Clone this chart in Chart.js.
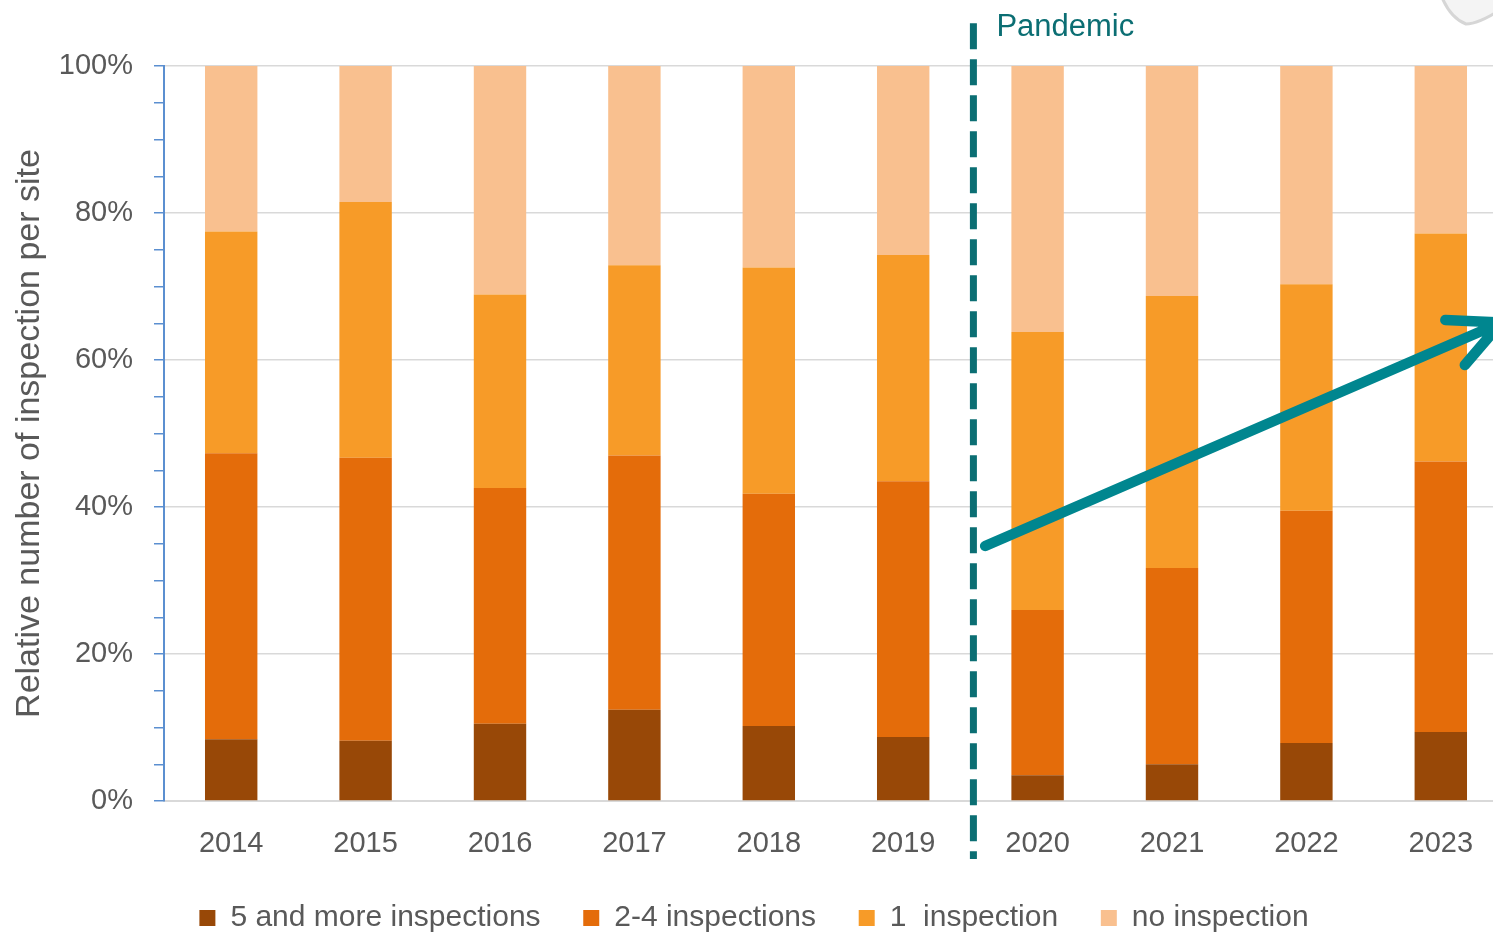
<!DOCTYPE html>
<html>
<head>
<meta charset="utf-8">
<script src="https://cdn.jsdelivr.net/npm/chart.js@4.4.1/dist/chart.umd.min.js"></script>
<style>
  html, body { margin: 0; padding: 0; overflow: hidden; background: #fff; }
  #wrap { width: 1508px; height: 932px; position: relative; }
</style>
</head>
<body>
<div id="wrap"><canvas id="myChart"></canvas></div>
<script>
// values (share of sites, %)
const years = ['2014', '2015', '2016', '2017', '2018', '2019', '2020', '2021', '2022', '2023'];
const fivePlus = [8.4, 8.2, 10.5, 12.4, 10.2, 8.7, 3.5, 5.0, 7.9, 9.4];
const twoToFour = [38.9, 38.5, 32.1, 34.6, 31.6, 34.8, 22.5, 26.7, 31.6, 36.8];
const oneInsp = [30.2, 34.8, 26.3, 25.9, 30.8, 30.8, 37.8, 37.0, 30.8, 31.0];
const noInsp = [22.5, 18.5, 31.1, 27.1, 27.4, 25.7, 36.2, 31.3, 29.7, 22.8];

const seriesNames = ['5 and more inspections', '2-4 inspections', '1  inspection', 'no inspection'];
const seriesColors = ['#984807', '#e46c0a', '#f79b28', '#f9c08f'];

// annotation: pandemic break between 2019 and 2020, trend arrow (category index, %)
const pandemicAt = 5.5;
const arrowFrom = [5.61, 34.7];
const arrowTo = [9.45, 65.1];

const teal = '#0b6e73';

Chart.defaults.font.family = "'Liberation Sans', Arial, sans-serif";
Chart.defaults.color = '#595959';

const annotate = {
  id: 'annotate',
  afterDatasetsDraw(chart) {
    const {ctx, scales: {x, y}} = chart;
    ctx.save();
    // dashed pandemic line
    let lx = x.getPixelForValue(pandemicAt) + 3;
    ctx.strokeStyle = teal;
    ctx.lineWidth = 7;
    ctx.setLineDash([26, 10]);
    ctx.beginPath();
    ctx.moveTo(lx, y.getPixelForValue(105.8));
    ctx.lineTo(lx, y.getPixelForValue(-7.9));
    ctx.stroke();
    ctx.setLineDash([]);

    ctx.fillStyle = teal;
    ctx.font = "31px 'Liberation Sans', Arial, sans-serif";
    ctx.textAlign = 'left';
    ctx.textBaseline = 'middle';
    ctx.fillText('Pandemic', lx + 23, y.getPixelForValue(105.2));

    // trend arrow
    let x1 = x.getPixelForValue(arrowFrom[0]), y1 = y.getPixelForValue(arrowFrom[1]);
    let x2 = x.getPixelForValue(arrowTo[0]), y2 = y.getPixelForValue(arrowTo[1]);
    let ang = Math.atan2(y2 - y1, x2 - x1);
    let head = 56, spread = 26 * Math.PI / 180;
    ctx.strokeStyle = '#00868f';
    ctx.lineWidth = 10.5;
    ctx.lineCap = 'round';
    ctx.lineJoin = 'round';
    ctx.beginPath();
    ctx.moveTo(x1, y1);
    ctx.lineTo(x2, y2);
    ctx.moveTo(x2 - head * Math.cos(ang - spread), y2 - head * Math.sin(ang - spread));
    ctx.lineTo(x2, y2);
    ctx.lineTo(x2 - head * Math.cos(ang + spread), y2 - head * Math.sin(ang + spread));
    ctx.stroke();

    // bit of a grey shape cut off at the top right corner
    ctx.lineWidth = 3;
    ctx.strokeStyle = '#d6d6d6';
    ctx.fillStyle = '#f4f4f4';
    ctx.beginPath();
    ctx.moveTo(1441, -5);
    ctx.quadraticCurveTo(1450, 18, 1466, 24);
    ctx.quadraticCurveTo(1478, 24, 1500, 10);
    ctx.lineTo(1500, -5);
    ctx.closePath();
    ctx.fill();
    ctx.beginPath();
    ctx.moveTo(1441, -5);
    ctx.quadraticCurveTo(1450, 18, 1466, 24);
    ctx.quadraticCurveTo(1478, 24, 1500, 10);
    ctx.stroke();
    ctx.restore();
  }
};

const datasets = [fivePlus, twoToFour, oneInsp, noInsp].map((d, i) => ({
  label: seriesNames[i],
  data: d,
  backgroundColor: seriesColors[i],
  borderWidth: 0,
  barPercentage: 0.39,
  categoryPercentage: 1.0,
}));

const ctx = document.getElementById('myChart');
new Chart(ctx, {
  type: 'bar',
  data: { labels: years, datasets: datasets },
  plugins: [annotate],
  options: {
    responsive: true,
    maintainAspectRatio: false,
    animation: false,
    layout: { padding: { top: 66, right: 0, left: 0, bottom: -11 } },
    scales: {
      x: {
        stacked: true,
        afterFit: (scale) => { scale.height = 101; },
        grid: { display: true, drawOnChartArea: false, drawTicks: false },
        border: { color: '#d9d9d9', width: 2 },
        ticks: { padding: 26, font: { size: 29 }, color: '#595959' },
      },
      y: {
        stacked: true,
        min: 0,
        max: 100,
        afterFit: (scale) => { scale.width = 164; },
        ticks: {
          stepSize: 5,
          autoSkip: false,
          padding: 21,
          font: { size: 29 },
          color: '#595959',
          callback: (v) => (v % 20 === 0 ? v + '%' : ''),
        },
        grid: {
          color: (c) => (c.tick && c.tick.value % 20 === 0 ? '#d9d9d9' : 'rgba(0,0,0,0)'),
          tickColor: '#5b8fd0',
          tickLength: 10,
          lineWidth: 1.5,
        },
        border: { color: '#5b8fd0', width: 2 },
        title: {
          display: true,
          text: 'Relative number of inspection per site',
          font: { size: 34 },
          color: '#595959',
          padding: { top: 9, bottom: 0 },
        },
      },
    },
    plugins: {
      legend: {
        position: 'bottom',
        labels: {
          boxWidth: 16,
          boxHeight: 16,
          padding: 1,
          font: { size: 30 },
          color: '#595959',
          generateLabels: (chart) => {
            const items = Chart.defaults.plugins.legend.labels.generateLabels(chart);
            // spacing between entries, as in the original legend
            items.forEach((it, i) => { if (i < items.length - 1) it.text = it.text + '     '; });
            return items;
          },
        },
      },
      tooltip: { enabled: false },
    },
  },
});
</script>
</body>
</html>
